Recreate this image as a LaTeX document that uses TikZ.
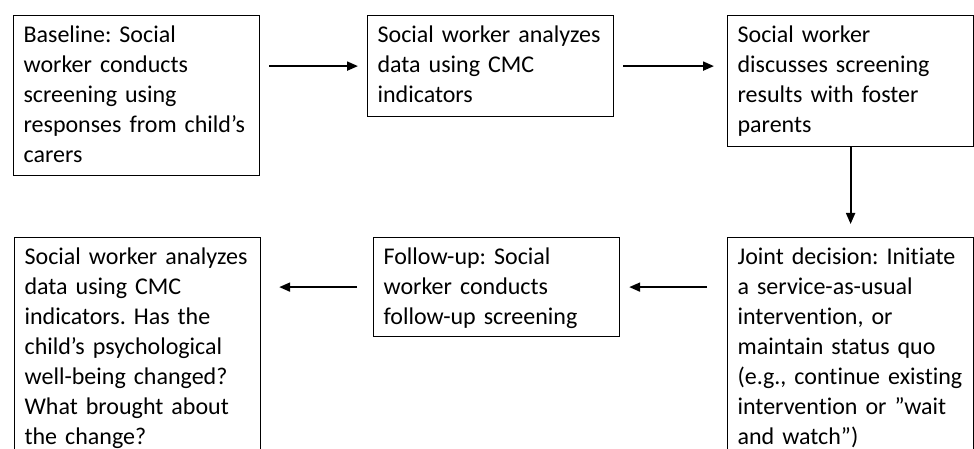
\documentclass[tikz,border=0pt]{standalone}
\usepackage{fontspec}
\setmainfont{Carlito}[Ligatures=NoCommon]
\frenchspacing
\usetikzlibrary{arrows.meta}

\begin{document}
\begin{tikzpicture}[x=1pt, y=-1pt, every node/.style={draw=black, line width=1.2pt, anchor=north west, align=left, text width=226pt, inner xsep=10pt, inner ysep=6pt, text height=21pt, font=\fontsize{24}{30}\selectfont}, every edge/.style={draw=black, line width=2pt, -{Triangle[length=11pt, width=9pt]}}]
			\useasboundingbox (0,0) rectangle (974,449);
			\clip (0,0) rectangle (974,449);
			
			\node (a1)[text depth=127pt] at (13,15){Baseline: Social\\ worker conducts\\ screening using\\ responses from child’s\\ carers};
			\node (b1)[text depth=68pt] at (367,15){Social worker analyzes\\ data using CMC\\ indicators};
			\node (c1)[text depth=98pt] at (727,15){Social worker\\ discusses screening\\ results with foster\\ parents};
			
			\node (a2)[text depth=230pt] at (14,237){Social worker analyzes\\ data using CMC\\ indicators. Has the\\ child’s psychological\\ well-being changed?\\ What brought about\\ the change?};
			\node (b2)[text depth=66pt] at (373,237){Follow-up: Social\\ worker conducts\\ follow-up screening};
			\node (c2)[text depth=230pt] at (727,237){Joint decision: Initiate\\ a service-as-usual\\ intervention, or\\ maintain status quo\\ (e.g., continue existing\\ intervention or ”wait\\ and watch”)};
			
			\path (a1.east |- b1.west) edge[shorten <=9pt, shorten >=9pt] (b1.west);
			\path (b1.east) edge[shorten <=9pt, shorten >=13pt] (b1.east -| c1.west);
			\path (c1.south) edge[shorten >=13pt] (c2.north);
			\path (c2.west |- b2.east) edge[shorten <=20pt, shorten >=9pt] (b2.east);
			\path (b2.west) edge[shorten <=16pt, shorten >=18pt] (b2.west -| a2.east);
			\end{tikzpicture}
\end{document}
